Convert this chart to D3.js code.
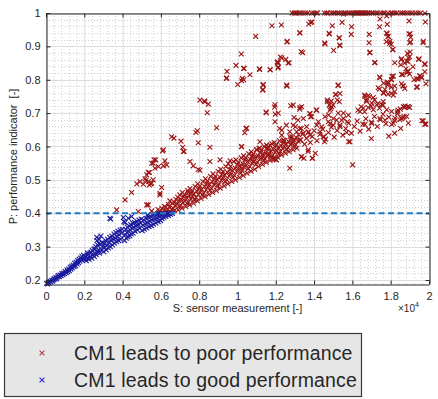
<!DOCTYPE html>
<html>
<head>
<meta charset="utf-8">
<script src="https://d3js.org/d3.v7.min.js"></script>
<style>
  body { margin: 0; background: #fff; }
  svg { display: block; }
  text { font-family: "Liberation Sans", Arial, sans-serif; fill: #262626; }
</style>
</head>
<body>
<script>
// S: sensor measurement (raw units), P: performance indicator
var X_TICKS = [0, 2000, 4000, 6000, 8000, 10000, 12000, 14000, 16000, 18000, 20000];
var X_TICK_LABELS = ["0", "0.2", "0.4", "0.6", "0.8", "1", "1.2", "1.4", "1.6", "1.8", "2"];
var Y_TICKS = [0.2, 0.3, 0.4, 0.5, 0.6, 0.7, 0.8, 0.9, 1];
var Y_TICK_LABELS = ["0.2", "0.3", "0.4", "0.5", "0.6", "0.7", "0.8", "0.9", "1"];
var THRESHOLD = 0.4;
var LEGEND_LABELS = ["CM1 leads to poor performance", "CM1 leads to good performance"];

var GOOD_POINTS = [
  [30,.19],[80,.188],[120,.193],[160,.19],[210,.196],[260,.194],[300,.199],[340,.197],[390,.2],[420,.204],
  [470,.202],[520,.207],[560,.204],[610,.209],[650,.213],[700,.21],[740,.215],[790,.213],[830,.219],[880,.216],
  [920,.221],[970,.219],[1010,.225],[1060,.222],[1100,.23],[1130,.225],[1180,.233],[1220,.228],[1260,.238],
  [1300,.232],[1340,.241],[1370,.236],[1420,.245],[1460,.24],[1500,.25],[1540,.243],[1580,.253],[1620,.248],
  [1650,.258],[1700,.252],[1730,.262],[1770,.256],[1810,.266],[1850,.26],[1880,.27],[1920,.263],[1960,.274],
  [2000,.266],[2040,.262],[2070,.27],[2110,.258],[2150,.274],[2160,.281],[2180,.265],[2210,.277],[2250,.262],
  [2290,.281],[2320,.27],[2350,.284],[2390,.265],[2420,.288],[2460,.276],[2500,.292],[2530,.27],[2560,.294],
  [2580,.28],[2600,.3],[2620,.276],[2650,.328],[2660,.318],[2700,.284],[2720,.303],[2750,.29],[2760,.31],
  [2780,.322],[2800,.28],[2830,.306],[2870,.332],[2900,.29],[2930,.312],[2970,.3],
  [3010,.285],[3040,.31],[3080,.298],[3110,.318],[3150,.29],[3190,.305],[3220,.322],[3260,.296],[3290,.312],
  [3330,.328],[3340,.385],[3360,.3],[3380,.383],[3400,.318],[3440,.332],[3470,.305],[3510,.322],[3550,.338],
  [3580,.31],[3620,.326],[3650,.342],[3690,.315],[3720,.33],[3760,.346],[3800,.318],[3830,.335],[3870,.35],
  [3900,.322],[3950,.34],[3980,.352],
  [4040,.387],[4070,.375],[4100,.318],[4130,.336],[4130,.372],[4160,.352],[4200,.325],[4230,.342],[4250,.358],
  [4270,.33],[4300,.346],[4300,.385],[4340,.362],[4380,.332],[4400,.35],[4420,.366],[4450,.338],[4470,.39],
  [4500,.355],[4540,.37],[4550,.34],[4580,.358],[4620,.372],[4660,.346],[4700,.362],[4740,.376],[4780,.35],
  [4820,.366],[4850,.38],[4900,.355],[4950,.37],[4980,.383],
  [5020,.348],[5060,.365],[5100,.38],[5140,.352],[5180,.368],[5220,.385],[5260,.356],[5300,.372],[5300,.395],
  [5340,.388],[5380,.36],[5420,.376],[5460,.391],[5500,.363],[5540,.38],[5580,.394],[5620,.367],[5660,.383],
  [5700,.397],[5740,.371],[5780,.386],[5820,.398],[5860,.375],[5900,.39],[5940,.399],[5980,.378],[6020,.393],
  [6060,.384],[6100,.397],[6150,.388],[6200,.399],[6260,.39],[6320,.396],[6400,.393],[6450,.399],[6500,.397],
  [6600,.399]
];

var POOR_POINTS = [
  // saturated at P = 1
  [12850,1],[12960,1],[13020,1],[13110,1],[13230,1],[13290,1],[13420,1],[13560,1],[13680,1],[13870,1],
  [13990,1],[14120,1],[14180,1],[14540,1],[14660,1],[14730,1],[14910,1],[15020,1],[15090,1],[15220,1],
  [15310,1],[15440,1],[15570,1],[15640,1],[15760,1],[15870,1],[15990,1],[16080,1],[16160,1],[16210,1],
  [16270,1],[16320,1],[16390,1],[16460,1],[16510,1],[16560,1],[16620,1],[16670,1],[16720,1],[16810,1],
  [16880,1],[17010,1],[17090,1],[17220,1],[17330,1],[17480,1],[17610,1],[17690,1],[17860,1],[18010,1],
  [18090,1],[18220,1],[18330,1],[18510,1],[18620,1],[18740,1],[18880,1],[19010,1],[19140,1],[19290,1],
  [19430,1],[19560,1],
  // dense band
  [5900,.401],[5960,.406],[5850,.411],[6100,.401],[6160,.408],[6050,.415],[6190,.42],
  [6300,.402],[6350,.41],[6240,.418],[6390,.426],[6280,.405],[6500,.404],[6560,.412],[6440,.42],[6590,.43],
  [6470,.437],[6700,.408],[6650,.415],[6760,.424],[6690,.433],[6780,.442],[6900,.41],[6960,.42],[6850,.428],
  [6940,.438],[6880,.448],[6990,.455],[7100,.415],[7040,.424],[7150,.432],[7070,.441],[7180,.45],[7120,.462],
  [7300,.42],[7360,.43],[7250,.437],[7330,.447],[7240,.456],[7390,.468],[7500,.425],[7440,.434],[7560,.443],
  [7480,.452],[7590,.461],[7520,.474],[7700,.43],[7760,.44],[7650,.45],[7720,.458],[7640,.468],[7790,.48],
  [7900,.437],[7840,.447],[7960,.456],[7880,.466],[7990,.475],[7920,.488],[8100,.444],[8160,.455],[8050,.463],
  [8130,.472],[8040,.482],[8190,.495],[8300,.45],[8240,.46],[8360,.47],[8280,.48],[8390,.49],[8320,.503],
  [8500,.456],[8560,.468],[8450,.478],[8530,.487],[8440,.497],[8590,.51],[8700,.462],[8640,.474],[8760,.485],
  [8680,.494],[8790,.504],[8720,.518],[8900,.468],[8960,.48],[8850,.492],[8930,.501],[8840,.511],[8990,.525],
  [9100,.475],[9040,.487],[9160,.498],[9080,.508],[9190,.518],[9120,.532],[9300,.482],[9360,.494],[9250,.505],
  [9330,.515],[9240,.525],[9390,.54],[9500,.488],[9440,.5],[9560,.512],[9480,.522],[9590,.532],[9520,.548],
  [9700,.495],[9760,.507],[9650,.518],[9730,.528],[9640,.54],[9790,.555],[9900,.5],[9840,.513],[9960,.525],
  [9880,.535],[9990,.546],[9920,.56],[10100,.507],[10160,.52],[10050,.532],[10130,.542],[10040,.553],
  [10190,.566],[10300,.513],[10240,.527],[10360,.538],[10280,.548],[10390,.56],[10320,.572],[10500,.52],
  [10560,.533],[10450,.544],[10530,.555],[10440,.566],[10590,.578],[10700,.526],[10640,.54],[10760,.55],
  [10680,.561],[10790,.572],[10720,.584],[10900,.532],[10960,.546],[10850,.556],[10930,.567],[10840,.578],
  [10990,.59],[11100,.54],[11040,.552],[11160,.562],[11080,.572],[11190,.583],[11120,.595],[11300,.546],
  [11360,.557],[11250,.567],[11330,.577],[11240,.588],[11390,.6],[11500,.552],[11440,.563],[11560,.572],
  [11480,.582],[11590,.593],[11520,.604],[11700,.558],[11760,.568],[11650,.578],[11730,.587],[11640,.598],
  [11790,.608],[11900,.563],[11840,.573],[11960,.583],[11880,.592],[11990,.602],[11920,.612],[12100,.568],
  [12160,.578],[12050,.588],[12130,.597],[12040,.606],[12190,.617],[12300,.575],[12240,.585],[12360,.594],
  [12280,.602],[12390,.612],[12500,.58],[12560,.59],[12450,.6],[12530,.608],[12440,.618],[12700,.585],
  [12640,.596],[12760,.605],[12680,.614],[12790,.624],[12900,.59],[12960,.6],[12850,.61],[12930,.62],
  [12840,.63],[13100,.595],[13040,.605],[13160,.616],[13080,.626],[13190,.635],
  [13300,.62],[13400,.637],[13500,.607],[13600,.625],[13700,.642],[13800,.612],[13900,.63],[14000,.647],
  [14150,.617],[14300,.636],[14450,.652],[14600,.622],[14750,.642],[14900,.658],[15050,.628],[15200,.648],
  [15350,.664],[15500,.634],[15650,.654],[15800,.67],[15950,.64],[16100,.66],[16250,.676],[16400,.646],
  [16550,.667],[16700,.683],[16850,.652],[17000,.673],[17150,.69],[17300,.66],[17450,.68],[17600,.697],
  [17750,.668],[17900,.688],[18050,.705],[18200,.678],[18350,.698],[18500,.712],[18700,.69],[18900,.72],
  // scattered
  [11800,.962],[12290,.964],[10950,.93],[13820,.972],[13720,.967],[14950,.962],[15460,.972],[13250,.941],
  [12580,.913],[14780,.939],[15300,.926],[14550,.91],[15940,.936],[15340,.904],[15020,.888],[13330,.884],
  [13410,.881],[10200,.877],[12240,.868],[12080,.851],[12520,.861],[12640,.85],[12310,.865],[9920,.843],
  [10320,.834],[9450,.825],[9420,.804],[10650,.815],[11160,.831],[11710,.83],[12110,.835],[10250,.804],
  [10320,.8],[10010,.786],[11330,.784],[11330,.771],[12580,.781],[17420,.959],[17820,.966],[18960,.976],
  [19810,.973],[17810,.938],[17860,.929],[17950,.909],[18030,.906],[17770,.914],[18120,.891],[18960,.937],
  [19040,.927],[18990,.911],[19690,.911],[16870,.911],[16900,.881],[17160,.851],[18210,.851],[18870,.879],
  [18550,.86],[18730,.85],[18520,.845],[18990,.869],[18900,.855],[19460,.861],[19780,.846],[19160,.839],
  [18900,.824],[18850,.821],[18990,.817],[19780,.824],[18640,.815],[18070,.81],[18030,.8],[17420,.808],
  [19600,.808],[19430,.802],[19510,.812],[19220,.8],[17820,.793],[17630,.79],[18210,.781],[18640,.782],
  [18730,.774],[18030,.778],[19390,.778],[17420,.772],[17630,.76],[15250,.783],[15110,.756],[14690,.739],
  [14900,.736],[14990,.724],[14870,.714],[11940,.718],[12780,.722],[13250,.712],[11500,.701],[11970,.697],
  [14110,.709],[13770,.699],[13820,.689],[12950,.687],[13160,.679],[10480,.655],[10380,.641],[10200,.599],
  [11160,.595],[12200,.654],[12550,.664],[12730,.644],[13020,.659],[13330,.654],[16640,.754],[16900,.749],
  [16730,.739],[17160,.739],[17340,.729],[17600,.724],[16460,.719],[16990,.721],[16290,.709],[16640,.704],
  [17860,.757],[18030,.759],[18210,.764],[18380,.709],[18730,.717],[18990,.717],[18550,.684],[18640,.687],
  [19630,.677],[19780,.667],[18520,.654],[16990,.624],[17900,.631],[18210,.64],[15810,.614],[14520,.629],
  [14550,.614],[16010,.545],[15700,.642],[16660,.666],[17010,.669],[17440,.684],[17700,.679],[18050,.666],
  [18140,.67],[18580,.684],[18920,.67],[19700,.677],[19840,.667],[18350,.704],[18660,.719],[13330,.569],
  [13470,.565],[13910,.565],[14060,.58],[13680,.585],[12730,.535],[12030,.56],[11850,.565],
  [3690,.41],[4130,.44],[4470,.462],[4820,.405],[5260,.425],[5520,.407],[4740,.488],[4910,.495],[5170,.503],
  [5260,.515],[5400,.522],[5520,.55],[5640,.56],[5690,.535],[6130,.542],[6300,.545],[5950,.46],[6040,.477],
  [5520,.49],[5350,.495],[5080,.487],[5220,.498],[7170,.585],[6130,.59],[7520,.555],[7690,.542],[8040,.739],
  [8300,.734],[8480,.727],[8420,.701],[8910,.656],[7900,.647],[7830,.642],[10440,.654],[6560,.629],
  [6680,.625],[7050,.616],[7950,.611],[7140,.598],[7210,.585],[6090,.587],[8560,.598],[10220,.6],[8560,.555],
  [9090,.56],[9610,.557],[10220,.535],[5730,.56],[6210,.557],[5600,.55],[5870,.54],[5340,.522],[5600,.5],
  [5390,.485],[5470,.488],[5950,.455],[5340,.425],[7950,.531],[8040,.529],[7430,.462],[9440,.805],
  [10340,.834],[11140,.832],[10220,.797],[8270,.736],[13260,.94],[13890,.973],[14800,.937],[15320,.925],
  [14570,.907],[15350,.902],[12600,.915],[12130,.85],[15530,.997],[17790,.991],[17440,.982],[19790,.999],
  [15960,.959],[16880,.936],[17790,.94],[17870,.93],[17960,.915],[18100,.89],[19010,.938],[19040,.913],
  [16920,.882],[19700,.915],[17180,.852],[18570,.863],[18830,.856],[19010,.883],[18920,.866],[18800,.833],
  [18890,.826],[19480,.863],[19790,.848],[18570,.816],[19350,.803],[19530,.811],[19620,.806],[19350,.778],
  [19840,.788],[18140,.811],[18050,.801],[17880,.791],[17840,.784],[18570,.788],[18660,.781],[17440,.806],
  [17350,.776],[17700,.771],[17610,.761],[18140,.754],[18750,.721],[18920,.719],[16660,.75],[16830,.753],
  [17090,.747],[16740,.735],[17010,.73],[17270,.725],[17530,.725],[17610,.735],[16830,.717],[16570,.715],
  [16400,.705],[17090,.71],[17410,.715],[17790,.71],[18220,.685],[18480,.68],[18830,.69],[11700,.83],
  [12130,.838],[12690,.851],[12080,.854],[11350,.786],[11320,.769],[12570,.784],[11960,.725],[12130,.7],
  [11490,.703],[11960,.674],[12910,.724],[13260,.717],[13350,.719],[13790,.698],[13870,.689],[14140,.709],
  [15260,.784],[15140,.756],[15320,.734],[14790,.724],[14920,.719],[14830,.709],[14760,.694],[14570,.689],
  [13440,.684],[12310,.649],[12910,.664],[13260,.654],[13610,.659],[13700,.644],[14140,.664],[14400,.659],
  [14830,.669],[15180,.679],[15530,.684],[15730,.674],[15350,.659],[15000,.664],[12310,.634],[12740,.629],
  [13090,.644],[13440,.64],[13790,.634],[12390,.619],[12910,.614],[13260,.619],[13700,.59],[13910,.565],
  [13350,.57],[14480,.629],[14310,.644],[15870,.614],[11960,.562],[11520,.595],[11170,.614],[11700,.604],
  [11000,.591],[10740,.569],[11350,.569],[10830,.555],[11610,.574],[15350,.759],[15210,.739],[14690,.734],
  [15260,.7],[15530,.7],[15790,.694],[15440,.679],[15000,.684],[14740,.674],[14220,.674]
];

(function(d3) {
  var W = 438, H = 399;
  var LEFT = 46, RIGHT = 429, TOP = 13, BOTTOM = 284;
  var POOR_COLOR = "#9c1515";
  var GOOD_COLOR = "#1a1a9e";
  var MARK = 2.4;

  var svg = d3.select("body").append("svg")
    .attr("width", W)
    .attr("height", H);

  var x = d3.scaleLinear().domain([0, 20000]).range([LEFT, RIGHT]);
  var y = d3.scaleLinear().domain([0.188, 1]).range([BOTTOM, TOP]);

  // minor grid (dotted), x every 400, y every 0.02
  var xMinor = d3.range(0, 51).map(function(i) { return i * 400; })
    .filter(function(v, i) { return i % 5 !== 0; });
  var yMinor = d3.range(10, 51).map(function(i) { return i * 0.02; })
    .filter(function(v, i) { return (i + 10) % 5 !== 0; });

  var grid = svg.append("g");
  grid.selectAll("line.xm").data(xMinor).enter().append("line")
    .attr("x1", function(d) { return x(d) + 0.5; })
    .attr("x2", function(d) { return x(d) + 0.5; })
    .attr("y1", TOP).attr("y2", BOTTOM)
    .attr("stroke", "#cfcfcf").attr("stroke-dasharray", "1,2");
  grid.selectAll("line.ym").data(yMinor).enter().append("line")
    .attr("y1", function(d) { return Math.round(y(d)) + 0.5; })
    .attr("y2", function(d) { return Math.round(y(d)) + 0.5; })
    .attr("x1", LEFT).attr("x2", RIGHT)
    .attr("stroke", "#cfcfcf").attr("stroke-dasharray", "1,2");
  grid.selectAll("line.xg").data(X_TICKS).enter().append("line")
    .attr("x1", function(d) { return x(d) + 0.5; })
    .attr("x2", function(d) { return x(d) + 0.5; })
    .attr("y1", TOP).attr("y2", BOTTOM)
    .attr("stroke", "#dcdcdc");
  grid.selectAll("line.yg").data(Y_TICKS).enter().append("line")
    .attr("y1", function(d) { return Math.round(y(d)) + 0.5; })
    .attr("y2", function(d) { return Math.round(y(d)) + 0.5; })
    .attr("x1", LEFT).attr("x2", RIGHT)
    .attr("stroke", "#dcdcdc");

  function cross(sel, color) {
    sel.attr("d", "M" + (-MARK) + "," + (-MARK) + "L" + MARK + "," + MARK +
                  "M" + (-MARK) + "," + MARK + "L" + MARK + "," + (-MARK))
      .attr("fill", "none")
      .attr("stroke", color)
      .attr("stroke-width", 1.1);
  }

  var poor = svg.append("g").selectAll("path").data(POOR_POINTS).enter().append("path")
    .attr("transform", function(d) { return "translate(" + x(d[0]) + "," + y(d[1]) + ")"; });
  cross(poor, POOR_COLOR);

  var good = svg.append("g").selectAll("path").data(GOOD_POINTS).enter().append("path")
    .attr("transform", function(d) { return "translate(" + x(d[0]) + "," + y(d[1]) + ")"; });
  cross(good, GOOD_COLOR);

  svg.append("line")
    .attr("x1", x(0)).attr("x2", x(20000))
    .attr("y1", y(THRESHOLD)).attr("y2", y(THRESHOLD))
    .attr("stroke", "#1f7cc4")
    .attr("stroke-width", 2)
    .attr("stroke-dasharray", "6,3.5");

  // axes box with inward ticks
  function styleAxis(g) {
    g.selectAll("path.domain").attr("stroke", "#262626");
    g.selectAll(".tick line").attr("stroke", "#262626");
    g.selectAll("text").attr("font-size", 11).attr("fill", "#262626")
      .attr("font-family", "Liberation Sans, Arial, sans-serif");
  }

  svg.append("g").attr("transform", "translate(0," + (BOTTOM + 0.5) + ")")
    .call(d3.axisBottom(x).tickValues(X_TICKS)
      .tickFormat(function(d, i) { return X_TICK_LABELS[i]; })
      .tickSizeInner(-4).tickSizeOuter(0).tickPadding(8))
    .call(styleAxis);
  svg.append("g").attr("transform", "translate(0," + (TOP + 0.5) + ")")
    .call(d3.axisTop(x).tickValues(X_TICKS).tickFormat("")
      .tickSizeInner(-4).tickSizeOuter(0))
    .call(styleAxis);
  svg.append("g").attr("transform", "translate(" + (LEFT + 0.5) + ",0)")
    .call(d3.axisLeft(y).tickValues(Y_TICKS)
      .tickFormat(function(d, i) { return Y_TICK_LABELS[i]; })
      .tickSizeInner(-4).tickSizeOuter(0).tickPadding(6))
    .call(styleAxis);
  svg.append("g").attr("transform", "translate(" + (RIGHT + 0.5) + ",0)")
    .call(d3.axisRight(y).tickValues(Y_TICKS).tickFormat("")
      .tickSizeInner(-4).tickSizeOuter(0))
    .call(styleAxis);

  svg.append("text")
    .attr("x", (LEFT + RIGHT) / 2).attr("y", 312)
    .attr("text-anchor", "middle").attr("font-size", 11)
    .text("S: sensor measurement [-]");

  var mult = svg.append("text").attr("x", 398).attr("y", 312).attr("font-size", 10);
  mult.append("tspan").text("\u00d710");
  mult.append("tspan").attr("dy", -5).attr("font-size", 7).text("4");

  svg.append("text")
    .attr("transform", "translate(17,156.5) rotate(-90)")
    .attr("text-anchor", "middle").attr("font-size", 11)
    .attr("xml:space", "preserve")
    .text("P: performance indicator  [-]");

  // legend
  var legend = svg.append("g");
  legend.append("rect")
    .attr("x", 4.5).attr("y", 333.5).attr("width", 357).attr("height", 63)
    .attr("fill", "#e6e6e6").attr("stroke", "#3a3a3a").attr("stroke-width", 1.2);
  var rows = legend.selectAll("g.row").data(LEGEND_LABELS).enter().append("g")
    .attr("transform", function(d, i) { return "translate(0," + (i === 0 ? 353 : 380) + ")"; });
  rows.append("path")
    .attr("transform", "translate(42,0)")
    .each(function(d, i) { cross(d3.select(this), i === 0 ? "#b83a3a" : "#2828e0"); });
  rows.append("text")
    .attr("x", 74).attr("y", 7).attr("font-size", 19.5)
    .attr("letter-spacing", 0.15)
    .text(function(d) { return d; });
})(d3);
</script>
</body>
</html>
